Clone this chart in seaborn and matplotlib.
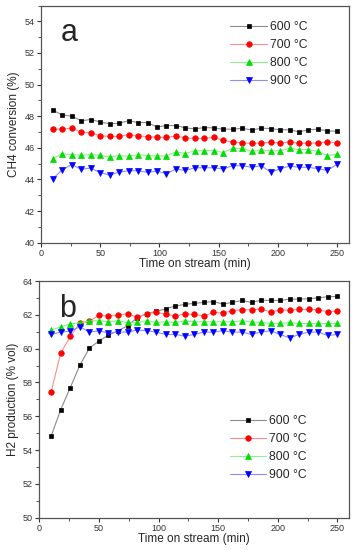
import numpy as np
import pandas as pd
import matplotlib
matplotlib.use("Agg")
import matplotlib.pyplot as plt
from matplotlib.ticker import MultipleLocator
import seaborn as sns

time_min = [10, 18, 26, 34, 42, 50, 58, 66, 74, 82, 90, 98, 106, 114, 122, 130,
            138, 146, 154, 162, 170, 178, 186, 194, 202, 210, 218, 226, 234, 242, 250]
labels = ["600 °C", "700 °C", "800 °C", "900 °C"]

ch4_600 = [48.38, 48.08, 48.0, 47.71, 47.79, 47.64, 47.52, 47.56, 47.71, 47.6, 47.6,
           47.31, 47.41, 47.41, 47.26, 47.2, 47.28, 47.26, 47.18, 47.18, 47.24, 47.12,
           47.24, 47.22, 47.14, 47.14, 47.01, 47.14, 47.18, 47.07, 47.05]
ch4_700 = [47.16, 47.2, 47.24, 46.98, 46.95, 46.77, 46.72, 46.72, 46.84, 46.76, 46.71,
           46.66, 46.66, 46.75, 46.62, 46.6, 46.6, 46.66, 46.47, 46.36, 46.32, 46.28,
           46.32, 46.34, 46.32, 46.36, 46.3, 46.3, 46.32, 46.36, 46.32]
ch4_800 = [45.32, 45.62, 45.57, 45.53, 45.57, 45.53, 45.43, 45.51, 45.47, 45.57, 45.51,
           45.49, 45.49, 45.74, 45.64, 45.81, 45.83, 45.83, 45.7, 45.96, 45.98, 45.77,
           45.87, 45.81, 45.81, 45.96, 45.89, 45.89, 45.77, 45.51, 45.6]
ch4_900 = [44.04, 44.62, 44.94, 44.64, 44.72, 44.43, 44.28, 44.47, 44.55, 44.55, 44.45,
           44.53, 44.36, 44.66, 44.57, 44.74, 44.74, 44.74, 44.66, 44.87, 44.87, 44.77,
           44.87, 44.47, 44.66, 44.85, 44.77, 44.77, 44.68, 44.57, 44.96]

h2_600 = [54.84, 56.4, 57.7, 59.02, 60.03, 60.45, 60.8, 61.06, 61.35, 61.83, 62.06,
          62.2, 62.36, 62.52, 62.62, 62.68, 62.74, 62.78, 62.64, 62.74, 62.85, 62.74,
          62.86, 62.86, 62.85, 62.93, 62.93, 62.95, 63.01, 63.07, 63.09]
h2_700 = [57.46, 59.75, 60.72, 61.53, 61.63, 61.97, 61.93, 62.0, 62.06, 61.87, 62.06,
          62.16, 62.03, 61.93, 62.06, 62.03, 61.93, 62.14, 62.12, 62.24, 62.3, 62.3,
          62.34, 62.18, 62.28, 62.28, 62.32, 62.32, 62.3, 62.18, 62.22]
h2_800 = [61.1, 61.29, 61.45, 61.53, 61.65, 61.65, 61.59, 61.65, 61.55, 61.55, 61.65,
          61.55, 61.59, 61.55, 61.63, 61.59, 61.59, 61.59, 61.59, 61.59, 61.65, 61.59,
          61.55, 61.49, 61.49, 61.55, 61.49, 61.49, 61.49, 61.49, 61.49]
h2_900 = [60.84, 60.98, 61.04, 61.29, 60.98, 61.06, 60.92, 60.98, 60.98, 61.1, 61.06,
          60.98, 60.84, 60.84, 60.74, 60.84, 60.98, 60.98, 61.06, 60.98, 60.98, 60.84,
          60.98, 61.06, 60.84, 60.64, 60.84, 60.98, 60.98, 60.78, 60.84]

sns.set_theme(style="ticks")
plt.rcParams["font.family"] = ["Liberation Sans", "DejaVu Sans"]

marker_colors = ["#000000", "#ff0000", "#00dd00", "#0000ff"]
line_colors = ["#8a8a8a", "#ff8c8c", "#8cf08c", "#8c8cff"]
markers = ["s", "o", "^", "v"]
msizes = [3.4, 4.0, 4.0, 4.0]

fig = plt.figure(figsize=(3.54, 5.5), dpi=100)
ax1 = fig.add_axes([0.1158, 0.5587, 0.8692, 0.4313])
ax2 = fig.add_axes([0.111, 0.0587, 0.8757, 0.4303])


def draw(ax, series, ylim, ylabel, letter, legend_anchor):
    for vals, lab, mc, lc, mk, ms in zip(series, labels, marker_colors, line_colors, markers, msizes):
        df = pd.DataFrame({"t": time_min, "v": vals})
        sns.lineplot(data=df, x="t", y="v", ax=ax, color=lc, linewidth=0.8,
                     marker=mk, markersize=ms, markerfacecolor=mc,
                     markeredgecolor=mc, markeredgewidth=0.5, label=lab)
    ax.set_xlim(0, 260)
    ax.set_ylim(*ylim)
    ax.xaxis.set_major_locator(MultipleLocator(50))
    ax.xaxis.set_minor_locator(MultipleLocator(25))
    ax.yaxis.set_major_locator(MultipleLocator(2))
    ax.yaxis.set_minor_locator(MultipleLocator(1))
    ax.tick_params(which="major", direction="out", length=3, width=0.8,
                   labelsize=6.5, colors="#333333", pad=1.5)
    ax.tick_params(which="minor", direction="out", length=2, width=0.6, colors="#333333")
    for s in ax.spines.values():
        s.set_color("#555555")
        s.set_linewidth(0.9)
    ax.set_xlabel("Time on stream (min)", fontsize=8.5, labelpad=0)
    ax.set_ylabel(ylabel, fontsize=8.5, labelpad=3)
    ax.text(0.065, 0.85, letter, transform=ax.transAxes, fontsize=22, ha="left",
            va="baseline")
    leg = ax.legend(loc="upper left", bbox_to_anchor=legend_anchor, frameon=False,
                    fontsize=8.7, handlelength=3.0, handletextpad=0.25,
                    labelspacing=0.5, borderaxespad=0)
    return leg


draw(ax1, [ch4_600, ch4_700, ch4_800, ch4_900], (40, 55), "CH4 conversion (%)", "a",
     (0.6, 0.955))
draw(ax2, [h2_600, h2_700, h2_800, h2_900], (50, 64), "H2 production (% vol)", "b",
     (0.6, 0.455))

fig.savefig("out.png", dpi=100)
